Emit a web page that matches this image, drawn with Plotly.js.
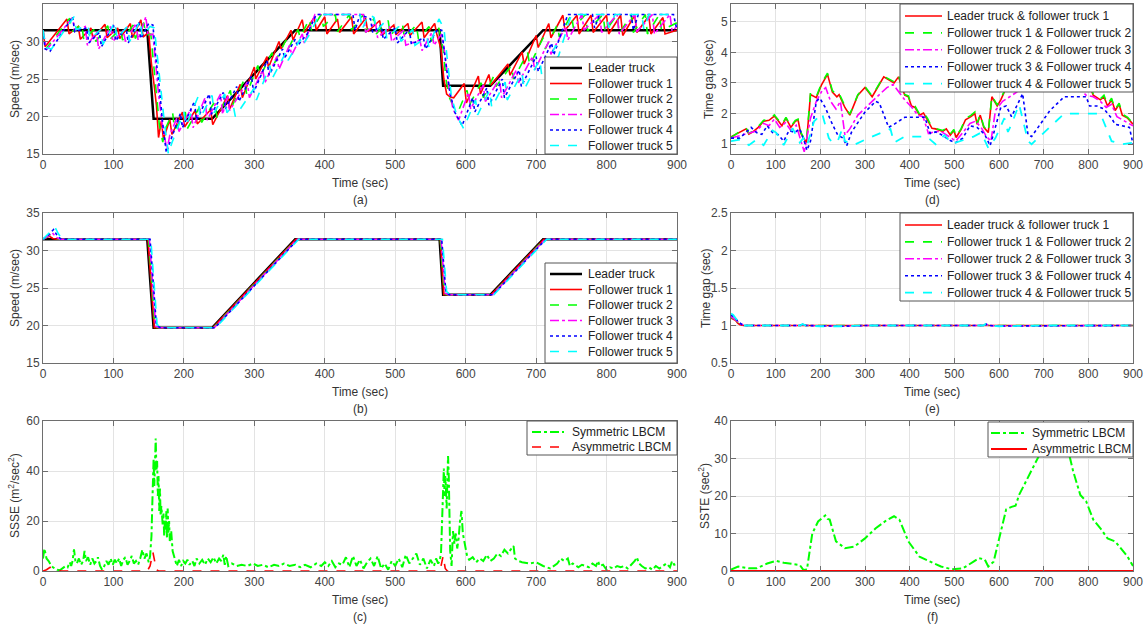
<!DOCTYPE html>
<html><head><meta charset="utf-8">
<script src="https://cdn.plot.ly/plotly-3.0.1.min.js"></script>
<style>html,body{margin:0;padding:0;background:#fff}#chart{width:1147px;height:628px}</style>
</head><body><div id="chart"></div>
<script>
// ---------- Panel (a): speed, symmetric LBCM ----------
const A_LEADER = [[0,31.5],[148,31.5],[157,19.7],[240,19.7],[358,31.5],[563,31.5],[568,24.1],[635,24.1],[710,31.5],[900,31.5]];
const A_F1 = [[0,31.5],[3,29.3],[34,33.0],[37,31.0],[50,32.0],[53,30.3],[68,31.8],[71,30.4],[88,32.3],[91,30.5],[106,31.8],[109,30.4],[124,32.4],[127,30.5],[139,32.9],[142,30.6],[150,31.2],[154,27],[158,24],[161,21.5],[164,17.2],[168,19.4],[171,17.0],[180,19.6],[183,17.6],[198,20.6],[201,18.6],[216,20.8],[219,19.0],[238,20.9],[241,18.9],[262,22.8],[265,21.0],[280,24.3],[283,22.5],[300,26.6],[302,25.0],[318,28.0],[320,26.5],[335,30.0],[338,29.0],[352,31.5],[355,30.2],[368,32.9],[371,31.2],[385,33.2],[388,31.5],[400,33.3],[403,31.0],[418,33.0],[421,31.2],[438,33.3],[441,31.0],[458,33.1],[461,31.3],[478,32.8],[481,30.8],[498,32.2],[501,30.9],[518,32.4],[521,30.8],[538,32.6],[541,30.5],[556,32.4],[559,31.0],[565,29],[569,25],[573,23],[578,22.6],[583,22.5],[598,24.4],[601,21.8],[618,25.4],[621,23.0],[633,25.6],[636,24.2],[660,27.0],[663,25.5],[680,28.6],[683,27.0],[700,30.8],[703,29.2],[718,32.4],[721,30.5],[738,33.5],[741,31.5],[758,33.5],[761,31.0],[778,33.5],[781,31.2],[800,33.5],[803,31.0],[820,33.5],[823,30.8],[840,33.5],[843,31.2],[860,33.4],[863,31.0],[880,33.2],[883,31.0],[900,31.5]];
const A_F2 = [[0,31.5],[4,29.0],[38,33.1],[41,31.3],[55,32.3],[58,30.1],[72,31.6],[75,30.0],[92,32.1],[95,30.3],[110,31.7],[113,30.2],[128,32.2],[131,30.4],[143,32.5],[146,30.8],[153,31.0],[157,27],[161,23],[165,19],[170,16.6],[174,18.4],[184,20.5],[187,18.2],[202,20.6],[205,18.4],[222,21.2],[225,19.2],[244,22.0],[247,19.8],[266,23.5],[269,21.5],[286,25.0],[289,23.0],[305,26.8],[308,25.3],[325,28.5],[328,27.0],[345,30.2],[348,29.0],[362,31.6],[365,30.5],[378,33.0],[381,31.5],[395,33.6],[398,32.0],[415,33.6],[418,31.3],[435,33.6],[438,31.5],[455,33.6],[458,31.2],[470,33.1],[473,31.0],[490,32.8],[493,30.8],[510,32.5],[513,30.5],[530,32.2],[533,30.3],[548,32.0],[551,30.0],[562,31.8],[568,29],[572,25],[577,22.5],[582,21.5],[590,20.8],[602,23.5],[605,21.5],[622,24.5],[625,22.5],[640,25.4],[643,24.0],[665,26.8],[668,25.0],[688,28.5],[691,26.8],[710,30.5],[713,29.0],[730,32.2],[733,30.6],[750,33.6],[753,31.8],[770,33.6],[773,31.4],[795,33.6],[798,31.3],[815,33.6],[818,31.0],[835,33.6],[838,31.2],[855,33.6],[858,31.0],[875,33.6],[878,31.5],[900,32.5]];
const A_F3 = [[0,31.5],[5,28.9],[42,33.2],[45,31.5],[60,32.0],[63,29.5],[76,31.3],[79,29.0],[96,32.0],[99,30.0],[114,31.5],[117,30.0],[132,32.4],[135,30.2],[146,33.3],[149,30.8],[156,31.0],[160,27],[164,23],[170,18.5],[176,15.6],[180,17.5],[190,19.8],[193,18.0],[210,21.0],[213,18.5],[230,22.5],[233,19.5],[252,23.0],[255,20.3],[262,22.8],[265,20.8],[290,24.6],[293,22.5],[312,26.2],[315,24.5],[332,28.0],[335,26.3],[350,29.5],[353,28.2],[368,31.0],[371,29.8],[386,33.6],[455,33.6],[458,31.2],[472,32.5],[475,30.5],[492,32.0],[495,30.0],[512,31.5],[515,29.5],[535,30.2],[538,28.8],[552,31.2],[555,29.5],[566,31.0],[571,28],[576,24],[582,21],[590,19.5],[604,23.2],[607,21.0],[625,24.2],[628,22.0],[648,25.0],[651,22.5],[672,26.2],[675,24.5],[695,28.0],[698,26.2],[718,30.0],[721,28.3],[742,32.0],[745,30.2],[765,33.6],[768,31.5],[790,33.6],[793,31.2],[815,33.6],[818,31.0],[840,33.6],[843,31.3],[865,33.6],[868,31.0],[890,33.6],[893,31.4],[900,32.0]];
const A_F4 = [[0,31.5],[3,29.0],[10,28.7],[42,33.3],[45,31.3],[62,31.8],[65,29.8],[80,31.2],[83,29.3],[100,32.2],[103,30.1],[118,31.8],[121,29.8],[136,32.6],[139,30.4],[150,32.4],[156,32.2],[160,28],[165,24],[170,19],[175,15.2],[182,17.0],[195,20.4],[198,18.5],[215,22.0],[218,19.5],[236,23.0],[239,20.3],[256,23.2],[259,21.0],[275,24.0],[278,22.0],[296,25.4],[299,23.2],[318,27.4],[321,25.5],[340,29.0],[343,27.8],[358,30.3],[361,29.4],[375,31.0],[388,33.6],[440,33.6],[443,31.5],[450,33.6],[465,33.0],[468,31.2],[480,32.2],[483,30.3],[500,31.8],[503,29.8],[520,31.6],[523,29.6],[540,30.5],[543,29.0],[560,31.6],[566,31.5],[572,27],[578,23],[585,20.5],[595,18.8],[610,22.5],[613,20.6],[630,23.8],[633,21.5],[652,25.0],[655,22.5],[676,26.2],[679,24.0],[700,28.0],[703,26.0],[722,29.8],[725,28.2],[745,33.6],[780,33.6],[783,31.8],[790,33.6],[835,33.6],[838,31.5],[845,33.6],[895,33.6],[900,31.5]];
const A_F5 = [[0,31.5],[4,29.2],[12,29.0],[44,33.3],[47,31.6],[64,32.1],[67,30.3],[82,31.6],[85,29.6],[102,32.6],[105,30.4],[120,32.0],[123,30.0],[138,32.8],[141,30.7],[152,32.0],[158,31.8],[162,28],[167,24],[172,19.5],[178,15.0],[183,16.5],[200,20.6],[203,18.8],[220,22.6],[223,19.8],[240,22.8],[243,20.5],[258,23.0],[261,20.5],[270,21.5],[273,20.0],[300,23.8],[303,22.2],[322,26.8],[325,25.0],[345,28.6],[348,27.5],[365,30.3],[368,29.4],[380,31.2],[392,33.6],[450,33.6],[453,31.6],[462,33.6],[470,33.2],[473,31.4],[485,32.6],[488,30.4],[505,32.0],[508,30.0],[525,31.6],[528,29.5],[545,30.6],[548,29.2],[562,33.0],[569,31.8],[575,27],[580,22.5],[588,20.0],[597,18.4],[614,22.2],[617,20.2],[634,23.5],[637,21.2],[656,24.6],[659,22.2],[680,25.8],[683,23.6],[705,27.6],[708,25.5],[728,29.5],[731,27.8],[750,33.6],[800,33.6],[803,31.8],[812,33.6],[850,33.6],[853,31.6],[860,33.6],[900,33.6]];

// ---------- Panel (b): speed, asymmetric LBCM ----------
const B_LEADER = [[0,31.5],[148,31.5],[157,19.7],[240,19.7],[358,31.5],[563,31.5],[568,24.1],[635,24.1],[710,31.5],[900,31.5]];
const B_F1 = [[0,31.5],[5,31.7],[9,31.9],[14,31.6],[20,31.5],[149,31.5],[158,19.7],[241,19.7],[359,31.5],[564,31.5],[569,24.1],[636,24.1],[711,31.5],[900,31.5]];
const B_F2 = [[0,31.5],[6,31.8],[11,32.2],[16,31.7],[22,31.5],[150,31.5],[159,19.8],[163,19.7],[242,19.7],[360,31.5],[564,31.5],[570,24.2],[573,24.1],[637,24.1],[712,31.5],[900,31.5]];
const B_F3 = [[0,31.5],[7,31.9],[13,32.4],[18,31.8],[24,31.5],[151,31.5],[160,19.9],[165,19.7],[243,19.7],[361,31.5],[565,31.5],[571,24.3],[575,24.1],[638,24.1],[713,31.5],[900,31.5]];
const B_F4 = [[0,31.5],[8,32.1],[15,32.8],[20,32.0],[26,31.5],[152,31.5],[161,20.0],[167,19.7],[244,19.7],[362,31.5],[566,31.5],[572,24.4],[577,24.1],[639,24.1],[714,31.5],[900,31.5]];
const B_F5 = [[0,31.5],[9,32.3],[17,33.1],[22,32.2],[28,31.5],[153,31.5],[162,20.1],[169,19.7],[245,19.7],[363,31.5],[567,31.5],[573,24.5],[579,24.1],[640,24.1],[715,31.5],[900,31.5]];

// ---------- Panel (c): SSSE ----------
const C_SYM = [[0,5],[2,9],[5,5],[8,4],[11,2.5],[14,1.5],[17,1],[20,0.5],[24,0.3],[28,1],[32,2],[35,1.5],[38,3.5],[40,2],[42,4],[44,8.7],[46,4],[48,3],[51,5],[54,2.5],[57,4],[59,8],[61,4],[64,5.5],[67,2.5],[70,5],[73,3],[76,4],[78,5.5],[81,2],[84,0.5],[87,2],[90,4],[93,2.5],[96,5],[99,2.5],[102,4.5],[105,3],[108,5],[111,2],[114,4.5],[117,5.5],[120,2.5],[123,4],[126,6],[129,3],[132,4],[135,2.5],[138,5],[141,8.5],[144,5],[147,7],[150,3.5],[152,6],[154,14],[155,25],[156,38],[157,45],[158,34],[159,48],[160,53],[161,40],[162,44],[163,30],[164,38],[165,24],[166,33],[167,22],[168,26],[170,18],[171,23],[172,14],[173,20],[174,16],[175,24],[176,13],[177,25],[178,15],[179,20],[180,12],[182,16],[184,8],[187,5],[190,2],[193,4.5],[196,2],[199,4],[202,3],[205,4.5],[208,2.5],[212,4],[215,2],[218,5],[222,3],[226,4.5],[230,2.5],[234,5],[238,3.5],[242,5.5],[246,3],[250,5],[253,4],[256,6.5],[258,2.5],[260,6],[263,2],[268,3],[275,2],[282,2.5],[290,2],[298,3],[305,2],[312,2.5],[320,1.5],[328,2.5],[335,2],[342,3],[350,2],[358,2.5],[365,1.5],[372,2.5],[380,1.5],[388,3],[395,2],[400,3.5],[405,2],[410,4],[415,1.5],[420,3],[425,2.5],[430,5.5],[435,1.5],[440,6],[445,2],[450,4.5],[455,1],[460,3.5],[465,5],[470,2],[475,6],[480,1],[485,3],[490,0.5],[495,4],[500,2],[505,5],[510,1.5],[515,6.5],[520,3],[525,5],[530,7],[535,2.5],[540,5],[545,1],[550,4.5],[555,2],[558,5],[561,3],[563,4],[565,7],[566,15],[567,27],[568,36],[569,41],[570,30],[571,38],[572,33],[573,25],[574,36],[575,46],[576,38],[577,20],[578,8],[580,2],[582,16],[584,11],[586,15],[588,9],[590,13],[592,20],[594,24],[596,15],[598,12],[600,9],[602,6],[605,4.5],[610,5.5],[615,3.5],[620,5],[625,4],[630,6.5],[635,4],[640,5],[645,7],[650,6],[655,8.5],[660,7],[665,9],[668,10],[670,5],[675,4],[680,3.5],[690,3],[700,3.5],[710,2],[720,1],[725,2],[730,3],[735,5],[740,4],[745,5],[748,2],[752,3],[755,2.5],[760,1.5],[765,2.5],[770,2],[775,1.5],[780,3],[785,2],[788,4],[790,2],[795,2.5],[800,0.5],[805,1.5],[810,1],[815,2],[820,1.5],[825,2],[830,1],[835,2.5],[840,4],[843,5.5],[846,3],[850,2],[855,1],[860,1.5],[865,0.5],[870,2],[875,1],[880,2],[885,3],[890,1.5],[893,4],[896,2.5],[900,3]];
const C_ASYM = [[0,0],[5,0.5],[10,1.5],[15,1.2],[20,0.5],[25,0],[148,0],[152,2],[156,7.5],[158,5],[161,0.5],[164,0],[562,0],[565,2],[568,6],[571,1],[574,0],[900,0]];

// ---------- Panel (d): time gap, symmetric LBCM ----------
const D_G1 = [[0,1.24],[20,1.4],[34,1.5],[40,1.33],[49,1.4],[61,1.55],[73,1.75],[85,1.78],[97,1.92],[104,1.8],[114,1.6],[123,1.85],[134,1.55],[144,1.75],[150,1.8],[156,1.36],[162,1.2],[169,1.05],[178,2.62],[191,2.52],[203,2.95],[216,3.28],[227,2.7],[237,2.55],[242,2.62],[255,2.2],[266,1.95],[284,2.6],[300,2.85],[316,2.55],[342,3.2],[365,3.0],[375,3.2],[382,2.9],[389,2.6],[397,2.55],[404,2.25],[412,2.2],[422,1.95],[431,2.02],[440,1.8],[450,1.52],[458,1.5],[466,1.45],[474,1.42],[482,1.5],[491,1.3],[499,1.45],[504,1.22],[515,1.48],[525,1.8],[537,1.9],[546,2.0],[551,1.65],[558,1.95],[566,1.55],[576,1.38],[584,2.55],[596,2.25],[604,2.45],[618,2.9],[628,3.15],[650,3.4],[690,3.9],[730,4.1],[770,3.6],[795,3.1],[803,2.9],[811,2.6],[827,2.45],[835,2.55],[843,2.25],[852,2.45],[860,2.1],[869,2.3],[876,1.95],[888,1.85],[900,1.65]];
const D_G2 = [[0,1.22],[20,1.42],[34,1.52],[40,1.36],[49,1.42],[61,1.58],[73,1.78],[85,1.8],[97,1.96],[104,1.84],[114,1.64],[123,1.88],[134,1.58],[144,1.78],[150,1.82],[156,1.4],[162,1.22],[169,1.08],[178,2.68],[191,2.55],[203,3.0],[216,3.32],[227,2.75],[237,2.6],[242,2.66],[255,2.25],[266,1.98],[284,2.62],[300,2.88],[316,2.58],[342,3.22],[365,3.04],[375,3.24],[382,2.94],[389,2.62],[397,2.58],[404,2.28],[412,2.24],[422,1.98],[431,2.05],[440,1.84],[450,1.55],[458,1.52],[466,1.48],[474,1.45],[482,1.52],[491,1.33],[499,1.48],[504,1.25],[515,1.5],[525,1.84],[537,1.94],[546,2.05],[551,1.68],[558,1.98],[566,1.58],[576,1.4],[584,2.58],[596,2.28],[604,2.5],[618,2.94],[628,3.2],[650,3.45],[690,3.95],[730,4.15],[770,3.65],[795,3.15],[803,2.95],[811,2.64],[827,2.48],[835,2.6],[843,2.3],[852,2.5],[860,2.14],[869,2.34],[876,1.98],[888,1.88],[900,1.68]];
const D_G3 = [[0,1.2],[40,1.35],[57,1.43],[73,1.68],[85,1.6],[97,1.82],[109,1.55],[122,1.7],[134,1.45],[146,1.62],[156,1.1],[164,0.75],[178,1.85],[191,2.4],[204,2.75],[212,2.85],[223,2.4],[235,2.15],[245,2.4],[255,1.3],[266,1.5],[284,1.95],[316,2.4],[349,2.85],[363,2.95],[389,2.45],[405,2.2],[418,1.95],[430,1.9],[442,1.35],[454,1.4],[470,1.42],[491,1.22],[503,1.1],[519,1.38],[535,1.68],[547,1.75],[560,1.55],[572,1.25],[582,1.1],[592,2.1],[608,2.4],[624,2.55],[649,2.8],[700,3.3],[760,3.1],[795,2.6],[811,2.55],[827,2.4],[840,2.2],[852,2.3],[864,1.9],[876,1.8],[900,1.6]];
const D_G4 = [[0,1.2],[20,1.2],[45,1.55],[57,1.38],[69,1.32],[81,1.6],[93,1.38],[105,1.32],[118,1.1],[130,1.45],[142,1.38],[154,1.5],[164,1.1],[170,0.8],[178,1.1],[191,2.4],[199,2.5],[211,2.2],[227,1.65],[239,1.3],[251,1.2],[259,0.95],[270,1.4],[300,2.05],[324,2.4],[332,2.35],[353,1.55],[365,1.65],[389,1.88],[434,1.88],[446,1.35],[458,1.4],[470,1.32],[491,1.12],[503,1.05],[519,1.2],[535,1.6],[551,1.55],[568,1.32],[580,0.95],[588,1.35],[604,2.2],[616,2.25],[628,1.9],[653,2.65],[665,1.3],[673,1.25],[714,2.1],[746,2.55],[795,2.55],[803,2.25],[819,2.25],[835,2.15],[852,1.85],[860,1.65],[876,1.6],[892,1.55],[900,1.0]];
const D_G5 = [[0,1.1],[20,1.15],[40,0.97],[57,1.15],[73,0.97],[93,1.45],[101,1.38],[118,0.97],[138,1.52],[154,1.05],[162,1.2],[170,0.95],[186,1.75],[204,2.0],[219,1.2],[227,1.05],[239,1.1],[249,1.5],[255,1.1],[276,0.98],[308,1.2],[357,1.5],[365,1.05],[389,1.25],[438,1.25],[458,1.0],[478,1.3],[495,1.0],[503,1.05],[519,1.12],[543,1.25],[560,1.38],[576,0.88],[592,1.2],[612,1.85],[620,1.4],[628,1.65],[645,2.3],[651,1.95],[665,1.1],[673,1.0],[714,1.55],[746,2.0],[795,2.0],[827,2.0],[852,1.1],[876,1.0],[900,1.05]];

// ---------- Panel (e): time gap, asymmetric LBCM ----------
const E_G1 = [[0,1.1],[5,1.09],[10,1.07],[15,1.03],[20,1.01],[28,1.0],[155,1.0],[160,1.01],[166,1.0],[565,1.0],[570,1.01],[576,1.0],[900,1.0]];
const E_G2 = [[0,1.11],[5,1.1],[10,1.08],[16,1.04],[22,1.01],[30,1.0],[155,1.0],[160,1.012],[167,1.0],[565,1.0],[570,1.012],[577,1.0],[900,1.0]];
const E_G3 = [[0,1.12],[6,1.1],[12,1.07],[18,1.03],[25,1.01],[32,1.0],[155,1.0],[161,1.015],[168,1.0],[200,0.995],[250,0.99],[300,1.0],[565,1.0],[571,1.015],[578,1.0],[600,0.995],[650,0.995],[900,1.0]];
const E_G4 = [[0,1.14],[6,1.12],[12,1.08],[18,1.04],[25,1.01],[32,1.0],[155,1.0],[161,1.018],[168,1.0],[200,0.993],[250,0.99],[300,1.0],[565,1.0],[571,1.018],[578,1.0],[600,0.993],[650,0.995],[900,1.0]];
const E_G5 = [[0,1.16],[5,1.14],[10,1.1],[16,1.05],[22,1.02],[30,1.0],[155,1.0],[160,1.02],[168,1.0],[200,0.99],[250,0.99],[300,1.0],[565,1.0],[570,1.02],[578,1.0],[600,0.99],[650,0.995],[700,1.0],[900,1.0]];

// ---------- Panel (f): SSTE ----------
const F_SYM = [[0,0.4],[16,1.2],[40,0.7],[57,0.7],[81,2.0],[101,2.7],[118,2.2],[138,1.8],[154,1.6],[162,0.3],[170,0.4],[182,10],[195,13.2],[205,14.2],[211,14.8],[216,13.9],[221,13.7],[235,7.9],[255,6.1],[276,6.5],[300,8.7],[324,11.4],[349,13.6],[365,14.6],[377,13.7],[397,7.9],[422,3.8],[446,2.5],[470,1.2],[495,0.45],[519,0.7],[543,2.5],[555,3.4],[568,3.1],[576,1.2],[588,2.5],[604,10],[616,16.4],[628,17.1],[637,17.4],[645,20.3],[653,22.1],[673,26.6],[689,30.6],[710,34],[730,35],[745,33],[758,30.6],[766,26.6],[782,20.3],[795,18.6],[811,13.7],[827,11.4],[843,8.7],[860,7.9],[876,5.6],[888,3.8],[900,1.3]];
const F_ASYM = [[0,0],[900,0]];

// ---------- Legend labels and ticks ----------
const SPEED_NAMES = ['Leader truck','Follower truck 1','Follower truck 2','Follower truck 3','Follower truck 4','Follower truck 5'];
const GAP_NAMES = ['Leader truck & follower truck 1','Follower truck 1 & Follower truck 2','Follower truck 2 & Follower truck 3','Follower truck 3 & Follower truck 4','Follower truck 4 & Follower truck 5'];
const ERR_NAMES = ['Symmetric LBCM','Asymmetric LBCM'];
const X_TICKS = [0,100,200,300,400,500,600,700,800,900];

const COL = {k:'#000000', r:'#ff0000', g:'#00ff00', m:'#ff00ff', b:'#0000ff', c:'#00ffff'};
const FONT = 'Liberation Sans, Arial, Helvetica, sans-serif';
const S_SPEED = [[COL.k,'solid',2.5],[COL.r,'solid',1.6],[COL.g,'dash',1.6],[COL.m,'dashdot',1.6],[COL.b,'dot',1.6],[COL.c,'dash',1.6]];
const S_GAP = [[COL.r,'solid',1.6],[COL.g,'dash',1.6],[COL.m,'dashdot',1.6],[COL.b,'dot',1.6],[COL.c,'dash',1.8]];
const S_ERR_C = [[COL.g,'dashdot',2],[COL.r,'dash',1.6]];
const S_ERR_F = [[COL.g,'dashdot',2],[COL.r,'solid',2]];

function tr(pairs, name, st, ax){
  return {x:pairs.map(p=>p[0]), y:pairs.map(p=>p[1]), name:name, type:'scatter', mode:'lines',
    line:{color:st[0], dash:st[1], width:st[2]}, xaxis:'x'+ax, yaxis:'y'+ax, hoverinfo:'skip', showlegend:false};
}
const data = [];
[A_LEADER,A_F1,A_F2,A_F3,A_F4,A_F5].forEach((s,i)=>data.push(tr(s,SPEED_NAMES[i],S_SPEED[i],'')));
[B_LEADER,B_F1,B_F2,B_F3,B_F4,B_F5].forEach((s,i)=>data.push(tr(s,SPEED_NAMES[i],S_SPEED[i],'2')));
[C_SYM,C_ASYM].forEach((s,i)=>data.push(tr(s,ERR_NAMES[i],S_ERR_C[i],'3')));
[D_G1,D_G2,D_G3,D_G4,D_G5].forEach((s,i)=>data.push(tr(s,GAP_NAMES[i],S_GAP[i],'4')));
[E_G1,E_G2,E_G3,E_G4,E_G5].forEach((s,i)=>data.push(tr(s,GAP_NAMES[i],S_GAP[i],'5')));
[F_SYM,F_ASYM].forEach((s,i)=>data.push(tr(s,ERR_NAMES[i],S_ERR_F[i],'6')));

const W = 1147, H = 628;
const px = v => v / W, py = v => 1 - v / H;
const LX = [43, 677], RX = [731, 1133];
const ROWS = [[4,154],[213,363],[421,571]];
const AXC = '#6e6e6e';
function xa(dom, anchor){
  return {domain:[px(dom[0]), px(dom[1])], anchor:anchor, range:[0,900], tickvals:X_TICKS,
    showline:true, mirror:'ticks', linecolor:AXC, linewidth:1, ticks:'inside', ticklen:5, tickcolor:AXC,
    showgrid:true, gridcolor:'#e3e3e3', zeroline:false, tickfont:{size:12, color:'#444'}, fixedrange:true};
}
function ya(row, anchor, range, tv){
  return {domain:[py(row[1]), py(row[0])], anchor:anchor, range:range, tickvals:tv,
    showline:true, mirror:'ticks', linecolor:AXC, linewidth:1, ticks:'inside', ticklen:5, tickcolor:AXC,
    showgrid:true, gridcolor:'#e3e3e3', zeroline:false, tickfont:{size:12, color:'#444'}, fixedrange:true};
}
const ann = [], shapes = [];
function txt(t, x, y, angle, anchor){
  ann.push({text:t, x:px(x), y:py(y), xref:'paper', yref:'paper', showarrow:false, textangle:angle||0,
    xanchor:anchor||'center', yanchor:'middle', font:{family:FONT, size:12, color:'#333'}});
}
// boxed legend: box = [left, top, right, bottom], first item centre, item step, sample x0,x1, text x
function legendBox(box, y0, step, sx0, sx1, tx, names, styles){
  shapes.push({type:'rect', xref:'paper', yref:'paper', layer:'above', x0:px(box[0]), x1:px(box[2]), y0:py(box[3]), y1:py(box[1]),
    fillcolor:'#ffffff', line:{color:'#555', width:1}});
  names.forEach((n,i)=>{
    const y = y0 + i*step;
    shapes.push({type:'line', xref:'paper', yref:'paper', layer:'above', x0:px(sx0), x1:px(sx1), y0:py(y), y1:py(y),
      line:{color:styles[i][0], dash:styles[i][1], width:styles[i][2]}});
    ann.push({text:n, x:px(tx), y:py(y), xref:'paper', yref:'paper', showarrow:false, xanchor:'left', yanchor:'middle',
      font:{family:FONT, size:12, color:'#222'}});
  });
}
legendBox([545,57,677,154], 68, 15.5, 550, 582, 586, SPEED_NAMES, S_SPEED);
legendBox([545,263,677,363], 274, 15.5, 550, 582, 586, SPEED_NAMES, S_SPEED);
legendBox([527,421,677,455], 432, 15, 532, 564, 570, ERR_NAMES, S_ERR_C);
legendBox([900,4,1133,92], 16, 16.9, 905, 942, 945, GAP_NAMES, S_GAP);
legendBox([900,213,1133,301], 225, 16.9, 905, 942, 945, GAP_NAMES, S_GAP);
legendBox([988,422,1133,457], 433, 16, 991, 1027, 1030, ERR_NAMES, S_ERR_F);

const CL = (LX[0]+LX[1])/2, CR = (RX[0]+RX[1])/2;
['a','b','c'].forEach((s,i)=>{ txt('Time (sec)', CL, ROWS[i][1]+29); txt('('+s+')', CL, ROWS[i][1]+46); });
['d','e','f'].forEach((s,i)=>{ txt('Time (sec)', CR, ROWS[i][1]+29); txt('('+s+')', CR, ROWS[i][1]+46); });
txt('Speed (m/sec)', 15, (ROWS[0][0]+ROWS[0][1])/2, -90);
txt('Speed (m/sec)', 15, (ROWS[1][0]+ROWS[1][1])/2, -90);
txt('SSSE (m<sup>2</sup>/sec<sup>2</sup>)', 14, (ROWS[2][0]+ROWS[2][1])/2, -90);
txt('Time gap (sec)', 709, (ROWS[0][0]+ROWS[0][1])/2, -90);
txt('Time gap (sec)', 706, (ROWS[1][0]+ROWS[1][1])/2, -90);
txt('SSTE (sec<sup>2</sup>)', 704, (ROWS[2][0]+ROWS[2][1])/2, -90);

const layout = {
  width:W, height:H, margin:{l:0,r:0,t:0,b:0}, paper_bgcolor:'#fff', plot_bgcolor:'#fff',
  font:{family:FONT, size:12, color:'#333'}, showlegend:false,
  xaxis: xa(LX,'y'), yaxis: ya(ROWS[0],'x',[15,35],[15,20,25,30,35]),
  xaxis2: xa(LX,'y2'), yaxis2: ya(ROWS[1],'x2',[15,35],[15,20,25,30,35]),
  xaxis3: xa(LX,'y3'), yaxis3: ya(ROWS[2],'x3',[0,60],[0,20,40,60]),
  xaxis4: xa(RX,'y4'), yaxis4: ya(ROWS[0],'x4',[0.68,5.58],[1,2,3,4,5]),
  xaxis5: xa(RX,'y5'), yaxis5: ya(ROWS[1],'x5',[0.5,2.5],[0.5,1,1.5,2,2.5]),
  xaxis6: xa(RX,'y6'), yaxis6: ya(ROWS[2],'x6',[0,40],[0,10,20,30,40]),
  annotations: ann, shapes: shapes
};
Plotly.newPlot('chart', data, layout, {staticPlot:true, displayModeBar:false});
</script></body></html>
